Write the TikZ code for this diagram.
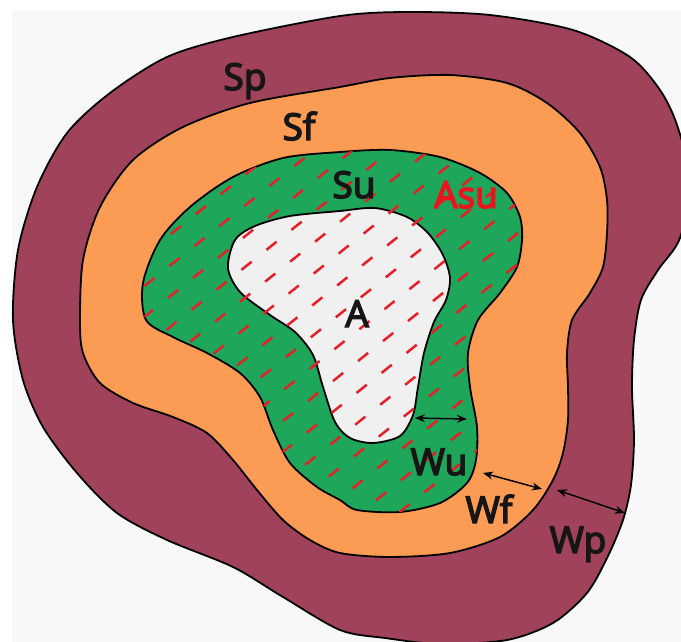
\documentclass[tikz,border=0pt]{standalone}
\usepackage{fontspec}
\setmainfont{Open Sans}
\newfontfamily\lblfont{Open Sans}[FakeBold=4]
\usetikzlibrary{arrows.meta}
\definecolor{bgc}{RGB}{248,248,248}
\definecolor{maroon}{RGB}{160,66,90}
\definecolor{orng}{RGB}{252,155,84}
\definecolor{grn}{RGB}{30,166,90}
\definecolor{afill}{RGB}{240,240,240}
\definecolor{hatchred}{RGB}{230,32,40}
\definecolor{txt}{RGB}{22,22,22}
\definecolor{asured}{RGB}{236,20,28}
\begin{document}
\begin{tikzpicture}[x=1pt,y=-1pt,
  region/.style={draw=black,line width=1.8pt,line join=round},
  lbl/.style={anchor=base,inner sep=0pt,text=txt,font=\lblfont\fontsize{37}{40}\selectfont},
  warrow/.style={{Stealth[length=10pt,width=8pt]}-{Stealth[length=10pt,width=8pt]},line width=1.5pt,black}]
\useasboundingbox (0,0) rectangle (681,642);
\fill[white] (0,0) rectangle (681,642);
\fill[bgc] (12,10) rectangle (681,642);
\def\sppath{plot[smooth cycle] coordinates {(13,320) (18,250) (37,187) (67,133) (110,93) (167,57) (233,37) (340,16) (407,12) (490,15) (573,30) (630,57) (660,90) (677,125) (690,180) (680,238) (658,270) (641,300) (634,340) (632,387) (634,440) (631,485) (623,520) (608,556) (587,593) (553,623) (507,640) (440,644) (385,638) (340,630) (283,597) (233,567) (167,540) (117,513) (77,473) (43,427) (23,380)}}
\def\sfpath{plot[smooth cycle] coordinates {(80,320) (83,260) (100,207) (133,160) (183,127) (250,103) (340,87) (390,78) (450,75) (507,83) (547,103) (580,133) (600,167) (607,200) (607,233) (603,267) (590,293) (572,320) (567,353) (568,387) (568,420) (563,453) (553,480) (533,510) (500,537) (450,553) (390,557) (340,553) (310,540) (283,520) (257,490) (233,460) (207,433) (173,417) (133,403) (100,383) (83,353)}}
\def\supath{plot[smooth cycle] coordinates {(146,320) (143,283) (160,240) (190,207) (233,177) (283,158) (340,152) (390,150) (440,157) (480,173) (507,193) (520,217) (522,240) (517,267) (500,293) (478,320) (468,353) (470,387) (477,427) (476,460) (467,483) (440,503) (400,512) (357,510) (340,500) (317,487) (290,463) (273,430) (260,397) (240,373) (207,353) (173,337)}}
\def\apath{plot[smooth cycle] coordinates {(228,268) (235,240) (255,226) (290,216) (340,211) (375,208) (407,217) (428,233) (443,255) (450,278) (446,300) (434,322) (424,353) (418,387) (413,415) (400,436) (373,443) (350,438) (335,422) (323,387) (313,355) (295,332) (270,315) (240,292)}}
\begin{scope}
\clip (0,0) rectangle (681,642);
\path[fill=maroon] \sppath;
\path[fill=orng] \sfpath;
\path[fill=grn] \supath;
\path[fill=afill] \apath;
\draw[region] \sppath;
\draw[region] \sfpath;
\draw[region] \supath;
\draw[region] \apath;
\begin{scope}
\clip \supath;
\begin{scope}[rotate=38.66]
\foreach \k in {0,...,40}{
  \draw[hatchred,line width=2.5pt,dash pattern=on 13pt off 19pt]
    ({-433+11*\k},{24*\k+1.6}) -- (620,{24*\k+1.6});
}
\end{scope}
\end{scope}
\end{scope}
\node[lbl] (sp) at (245,90) {Sp};
\node[lbl] (sf) at (299,140) {Sf};
\node[lbl] (su) at (354,198) {Su};
\node[lbl,text=asured] (asu) at (466,208) {Asu};
\node[lbl] (a) at (357,327) {A};
\node[lbl] (wu) at (439,475) {Wu};
\node[lbl] (wf) at (489,523) {Wf};
\node[lbl] (wp) at (578,553) {Wp};
\coordinate (wu1) at (415,418);
\coordinate (wu2) at (467,419);
\coordinate (wf1) at (483,473);
\coordinate (wf2) at (542,489);
\coordinate (wp1) at (557,490);
\coordinate (wp2) at (625,513);
\draw[warrow] (wu1) -- (wu2);
\draw[warrow] (wf1) -- (wf2);
\draw[warrow] (wp1) -- (wp2);
\end{tikzpicture}
\end{document}
